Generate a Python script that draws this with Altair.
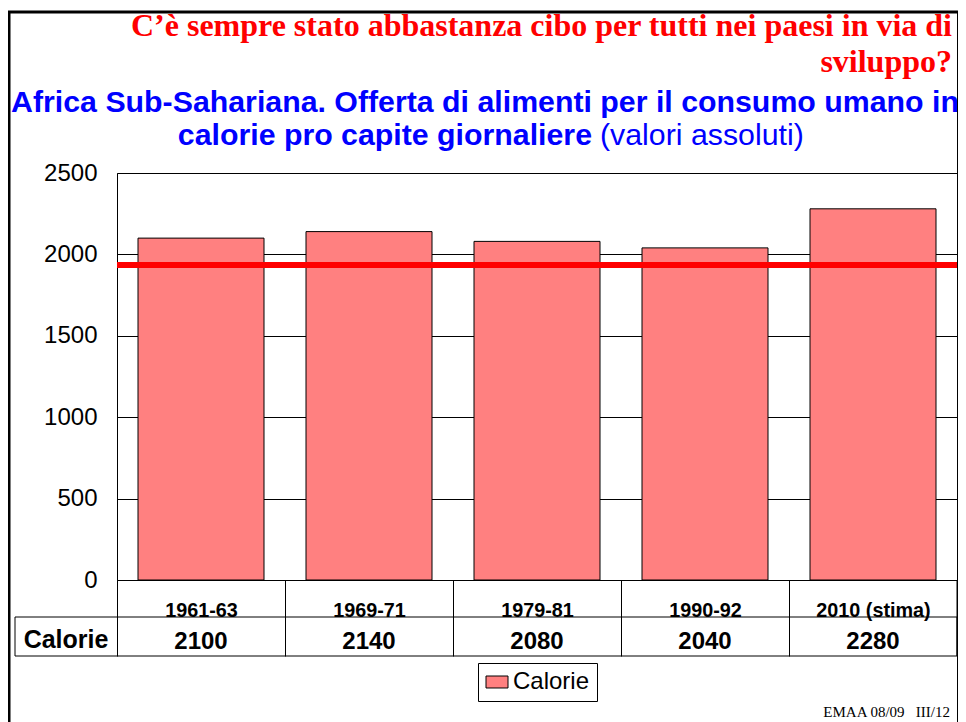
import altair as alt
import pandas as pd

# ---- data ----
periodi = ["1961-63", "1969-71", "1979-81", "1990-92", "2010 (stima)"]
calorie = [2100, 2140, 2080, 2040, 2280]
soglia = [1935]
serie = "Calorie"

titolo_1 = "C\u2019è sempre stato abbastanza cibo per tutti nei paesi in via di"
titolo_2 = "sviluppo?"
sotto_1 = "Africa Sub-Sahariana. Offerta di alimenti per il consumo umano in"
sotto_2a = "calorie pro capite giornaliere"
sotto_2b = "(valori assoluti)"
piede = "EMAA 08/09\u00a0\u00a0\u00a0III/12"

SANS = "Liberation Sans, Arial, sans-serif"
SERIF = "Liberation Serif, Times New Roman, serif"

df = pd.DataFrame({"periodo": periodi, "calorie": calorie, "serie": [serie] * len(periodi)})
df_soglia = pd.DataFrame({"soglia": soglia})

x_axis = alt.Axis(
    title=None, labelAngle=0, labelFont=SANS, labelFontSize=19.8,
    labelFontWeight="bold", labelColor="black", ticks=True,
    tickOffset=-84, labelOffset=84,
    tickSize=76, tickColor="black", tickWidth=1, labelPadding=-40,
    labelBaseline="alphabetic", domain=True, domainColor="black",
    domainWidth=1, grid=False, labelOverlap=False,
)
x_scale = alt.Scale(paddingInner=0.25, paddingOuter=0.125)

y_enc = alt.Y(
    "calorie:Q",
    scale=alt.Scale(domain=[0, 2500], nice=False),
    axis=alt.Axis(
        title=None, values=[0, 500, 1000, 1500, 2000, 2500], format="d", ticks=False,
        labelPadding=20, labelFont=SANS, labelFontSize=24, labelColor="black",
        grid=True, gridColor="black", gridWidth=1, gridOpacity=1, domain=False,
    ),
)

bars = alt.Chart(df).mark_bar(stroke="black", strokeWidth=1).encode(
    x=alt.X("periodo:N", sort=periodi, scale=x_scale, axis=x_axis),
    y=y_enc,
    color=alt.Color(
        "serie:N",
        scale=alt.Scale(domain=[serie], range=["#FF8080"]),
        legend=alt.Legend(
            title=None, orient="none", legendX=361, legendY=490,
            symbolType="M-1,-0.545H1V0.545H-1Z", symbolSize=484,
            symbolStrokeColor="black", symbolStrokeWidth=1, symbolOpacity=1,
            labelFont=SANS, labelFontSize=24, labelColor="black", labelOffset=4,
            padding=7, strokeColor="black", fillColor="white",
        ),
    ),
)

rule = alt.Chart(df_soglia).mark_rule(color="#FF0000", strokeWidth=6).encode(
    y=alt.Y("soglia:Q", title=None), x=alt.value(0), x2=alt.value(844)
)

table_box = alt.Chart(pd.DataFrame({"r": [0]})).mark_rect(
    fillOpacity=0, stroke="black", strokeWidth=1
).encode(x=alt.value(-102), x2=alt.value(840), y=alt.value(444), y2=alt.value(483))

table_right = alt.Chart(pd.DataFrame({"r": [0]})).mark_rule(
    color="black", strokeWidth=1
).encode(x=alt.value(840), y=alt.value(407), y2=alt.value(483))

values_txt = alt.Chart(df).mark_text(
    font=SANS, fontSize=24, fontWeight="bold", color="black", baseline="alphabetic"
).encode(
    x=alt.X("periodo:N", sort=periodi, scale=x_scale, axis=x_axis),
    y=alt.value(476),
    text="calorie:Q",
)

row_label = alt.Chart(pd.DataFrame({"t": [serie]})).mark_text(
    font=SANS, fontSize=25, fontWeight="bold", color="black",
    baseline="alphabetic", align="center"
).encode(x=alt.value(-51), y=alt.value(475), text="t:N")


def txt(s, x, y, font, size, weight, color, align):
    return alt.Chart(pd.DataFrame({"t": [s]})).mark_text(
        font=font, fontSize=size, fontWeight=weight, color=color,
        align=align, baseline="alphabetic"
    ).encode(x=alt.value(x), y=alt.value(y), text="t:N")


t1 = txt(titolo_1, 835, -137, SERIF, 32, "bold", "#FF0000", "right")
t2 = txt(titolo_2, 835, -101, SERIF, 32, "bold", "#FF0000", "right")
s1 = txt(sotto_1, 368, -61, SANS, 30.3, "bold", "#0000FF", "center")
s2a = txt(sotto_2a, 475, -28, SANS, 30.3, "bold", "#0000FF", "right")
s2b = txt(sotto_2b, 483, -28, SANS, 30.3, "normal", "#0000FF", "left")
foot = txt(piede, 833, 544, SERIF, 15, "normal", "black", "right")

frame = alt.Chart(pd.DataFrame({"r": [0]})).mark_rect(
    fillOpacity=0, stroke="black", strokeWidth=3
).encode(x=alt.value(-108), x2=alt.value(841.5), y=alt.value(-161), y2=alt.value(600))

chart = alt.layer(
    bars, rule, table_box, table_right, values_txt, row_label,
    t1, t2, s1, s2a, s2b, foot, frame
).properties(
    width=840, height=407,
    padding={"left": 109, "top": 165, "right": 1, "bottom": 142},
    autosize=alt.AutoSizeParams(type="none"),
    background="white",
).configure_view(stroke="black", strokeWidth=1)

chart.save("out.html", embed_options={"renderer": "svg", "actions": False})
